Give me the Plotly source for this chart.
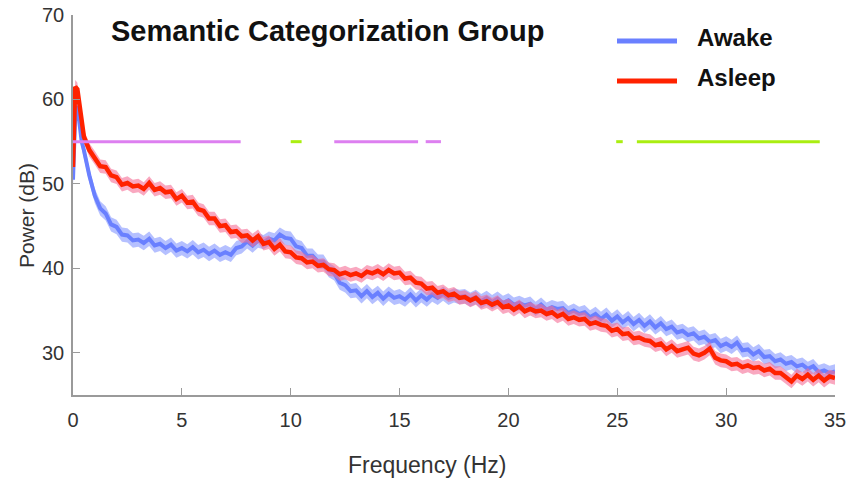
import plotly.graph_objects as go

# ---------------- data ----------------
# frequency grid (Hz): fine sampling near 0, then 0.25 Hz steps
freq_low = [0.0, 0.1, 0.2, 0.3, 0.4]
freq_step = [0.5 + 0.25 * i for i in range(139)]
freq = freq_low + freq_step

awake = [
    50.5, 58.0, 59.2, 56.8, 55.0,
    54.0, 51.0,                    # 0.5, 0.75
    48.6, 47.1, 46.5, 45.2,        # 1
    44.9, 44.0, 43.9, 43.3,        # 2
    43.4, 43.0, 43.5, 42.7,        # 3
    42.9, 42.4, 42.8, 42.1,        # 4
    42.4, 42.0, 42.5, 41.9,        # 5
    42.2, 41.7, 42.1, 41.6,        # 6
    41.9, 41.6, 42.4, 42.6,        # 7
    43.2, 42.7, 43.3, 43.1,        # 8
    43.5, 43.3, 44.0, 43.6,        # 9
    43.5, 42.6, 42.4, 41.5,        # 10
    41.5, 40.8, 40.8, 39.8,        # 11
    39.4, 38.3, 38.0, 37.3,        # 12
    37.4, 36.7, 37.3, 36.6,        # 13
    37.1, 36.4, 37.0, 36.5,        # 14
    36.7, 36.3, 36.9, 36.2,        # 15
    36.8, 36.3, 36.9, 36.5,        # 16
    37.0, 36.5, 36.8, 36.6,        # 17
    36.7, 36.3, 36.6, 36.1,        # 18
    36.5, 36.0, 36.4, 35.9,        # 19
    36.2, 35.7, 35.9, 35.6,        # 20
    35.8, 35.2, 35.7, 35.1,        # 21
    35.4, 35.2, 35.3, 34.7,        # 22
    35.0, 34.6, 34.8, 34.2,        # 23
    34.6, 34.0, 34.5, 33.8,        # 24
    34.3, 33.6, 34.1, 33.4,        # 25
    33.9, 33.2, 33.7, 33.0,        # 26
    33.5, 32.8, 33.1, 32.4,        # 27
    32.6, 32.1, 32.3, 31.7,        # 28
    31.9, 31.3, 31.5, 30.8,        # 29
    31.1, 30.7, 31.2, 30.3,        # 30
    30.4, 29.8, 30.2, 29.5,        # 31
    29.6, 29.0, 29.2, 28.7,        # 32
    28.9, 28.4, 28.6, 28.1,        # 33
    28.4, 27.7, 27.9, 27.6,        # 34
    27.8,                          # 35
]

asleep = [
    52.0, 61.5, 61.2, 59.0, 57.0,
    55.6, 54.0,                    # 0.5, 0.75
    53.1, 52.1, 52.0, 51.0,        # 1
    50.8, 49.9, 50.1, 49.7,        # 2
    49.8, 49.4, 50.1, 49.3,        # 3
    49.5, 49.0, 49.1, 48.2,        # 4
    48.6, 47.8, 47.9, 47.0,        # 5
    46.8, 45.9, 45.9, 45.0,        # 6
    45.1, 44.3, 44.4, 43.8,        # 7
    43.9, 43.3, 43.8, 42.9,        # 8
    43.1, 42.3, 42.8, 42.0,        # 9
    41.9, 41.3, 41.2, 40.7,        # 10
    40.8, 40.3, 40.4, 39.9,        # 11
    39.8, 39.3, 39.5, 39.2,        # 12
    39.4, 39.1, 39.6, 39.4,        # 13
    39.7, 39.3, 39.8, 39.4,        # 14
    39.5, 38.8, 38.9, 38.3,        # 15
    38.2, 37.6, 37.7, 37.1,        # 16
    37.3, 36.8, 37.0, 36.5,        # 17
    36.6, 36.2, 36.5, 35.9,        # 18
    36.1, 35.7, 36.0, 35.4,        # 19
    35.6, 35.1, 35.5, 34.9,        # 20
    35.2, 34.9, 35.0, 34.6,        # 21
    34.8, 34.3, 34.6, 34.0,        # 22
    34.2, 33.9, 34.0, 33.4,        # 23
    33.6, 33.3, 33.2, 32.6,        # 24
    32.8, 32.2, 32.3, 31.7,        # 25
    31.8, 31.5, 31.4, 30.9,        # 26
    31.1, 30.4, 30.8, 30.2,        # 27
    30.4, 30.6, 29.9, 29.7,        # 28
    30.0, 30.5, 29.4, 29.1,        # 29
    29.0, 28.6, 28.7, 28.3,        # 30
    28.5, 28.2, 28.3, 27.9,        # 31
    28.1, 27.6, 27.6, 27.1,        # 32
    26.6, 27.3, 26.9, 27.4,        # 33
    26.8, 27.3, 26.7, 27.2,        # 34
    27.0,                          # 35
]

awake_sem = 0.85
asleep_sem = 0.8

# significance segments (Hz) drawn at a fixed level
sig_level = 55
sig_asleep_start = [0.0, 12.0, 16.2]
sig_asleep_end = [7.7, 15.85, 16.9]
sig_awake_start = [10.0, 24.95, 25.9]
sig_awake_end = [10.5, 25.25, 34.3]

series_names = ["Awake", "Asleep"]
title_text = "Semantic Categorization Group"
x_title = "Frequency (Hz)"
y_title = "Power (dB)"
x_ticks = [0, 5, 10, 15, 20, 25, 30, 35]
y_ticks = [30, 40, 50, 60, 70]

# ---------------- style ----------------
FONT = "Liberation Sans, Arial, Helvetica, sans-serif"
BLUE = "#6a80ff"
RED = "#ff2200"
BLUE_BAND = "rgba(120,140,255,0.55)"
RED_BAND = "rgba(245,110,150,0.6)"
MAGENTA = "#dd7ff0"
GREEN = "#aaee11"
AXIS = "#9a9a9a"

fig = go.Figure()


def add_band(mean, sem, color):
    upper = [m + sem for m in mean]
    lower = [m - sem for m in mean]
    fig.add_trace(go.Scatter(
        x=freq + freq[::-1], y=upper + lower[::-1],
        fill="toself", fillcolor=color, line=dict(width=0),
        mode="lines", hoverinfo="skip", showlegend=False))


add_band(awake, awake_sem, BLUE_BAND)
fig.add_trace(go.Scatter(x=freq, y=awake, mode="lines", name=series_names[0],
                         line=dict(color=BLUE, width=4), showlegend=False))
add_band(asleep, asleep_sem, RED_BAND)
fig.add_trace(go.Scatter(x=freq, y=asleep, mode="lines", name=series_names[1],
                         line=dict(color=RED, width=4.5), showlegend=False))

# significance bars
for s, e in zip(sig_asleep_start, sig_asleep_end):
    fig.add_trace(go.Scatter(x=[s, e], y=[sig_level, sig_level], mode="lines",
                             line=dict(color=MAGENTA, width=3),
                             hoverinfo="skip", showlegend=False))
for s, e in zip(sig_awake_start, sig_awake_end):
    fig.add_trace(go.Scatter(x=[s, e], y=[sig_level, sig_level], mode="lines",
                             line=dict(color=GREEN, width=3),
                             hoverinfo="skip", showlegend=False))

W, H = 850, 486
L, R, T, B = 73, 15, 15, 91
pw, ph = W - L - R, H - T - B


def px_x(p):
    return (p - L) / pw


def px_y(p):
    return (H - B - p) / ph


# manual legend
for name, col, yy in [(series_names[0], BLUE, 41), (series_names[1], RED, 81)]:
    fig.add_shape(type="line", xref="paper", yref="paper",
                  x0=px_x(617), x1=px_x(677), y0=px_y(yy), y1=px_y(yy),
                  line=dict(color=col, width=5))
    fig.add_annotation(xref="paper", yref="paper", x=px_x(695), y=px_y(yy - 3),
                       text=f"<b>{name}</b>", showarrow=False, xanchor="left",
                       yanchor="middle",
                       font=dict(family=FONT, size=24, color="#111"))

fig.add_annotation(xref="paper", yref="paper", x=px_x(327), y=px_y(31),
                   text=f"<b>{title_text}</b>", showarrow=False,
                   xanchor="center", yanchor="middle",
                   font=dict(family=FONT, size=29, color="#111"))

# axis titles
fig.add_annotation(xref="paper", yref="paper", x=px_x(427), y=px_y(465),
                   text=x_title, showarrow=False, xanchor="center",
                   yanchor="middle",
                   font=dict(family=FONT, size=23, color="#333"))
fig.add_annotation(xref="paper", yref="paper", x=px_x(26), y=px_y(216),
                   text=y_title, showarrow=False, textangle=-90,
                   xanchor="center", yanchor="middle",
                   font=dict(family=FONT, size=21, color="#333"))

axis_common = dict(showline=True, linecolor=AXIS, linewidth=1.5,
                   ticks="inside", ticklen=7, tickcolor=AXIS, tickwidth=1.2,
                   showgrid=False, zeroline=False, automargin=False,
                   tickfont=dict(family=FONT, size=20, color="#333"))

fig.update_layout(
    width=W, height=H,
    margin=dict(l=L, r=R, t=T, b=B, autoexpand=False),
    paper_bgcolor="white", plot_bgcolor="white",
    showlegend=False,
    font=dict(family=FONT, color="#333"),
    xaxis=dict(range=[0, 35], tickvals=x_ticks, ticklabelstandoff=6,
               **axis_common),
    yaxis=dict(range=[25, 70], tickvals=y_ticks, ticklabelstandoff=3,
               **axis_common),
)

fig.write_html("out.html")
